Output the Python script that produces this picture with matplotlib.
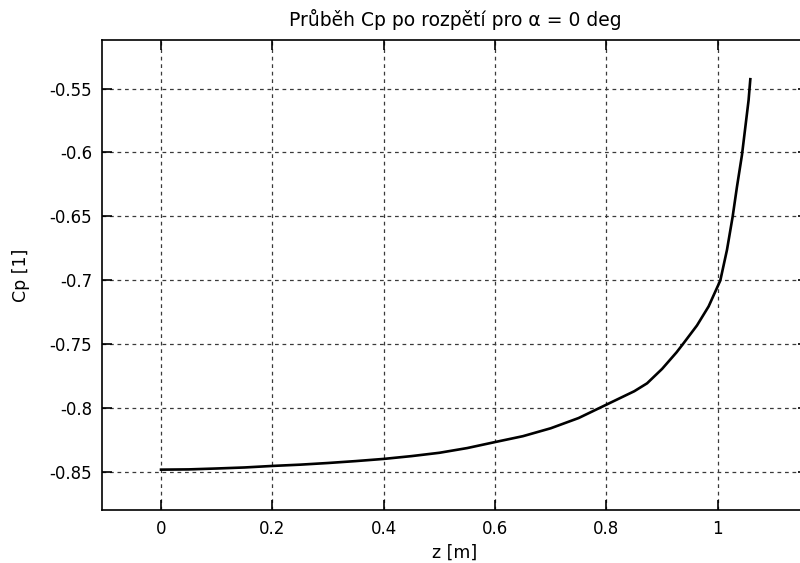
import matplotlib
matplotlib.use("Agg")
import matplotlib.pyplot as plt

plt.rcParams['font.family'] = ['DejaVu Sans']

z = [0.0, 0.05, 0.1, 0.15, 0.2, 0.25, 0.3, 0.35, 0.4, 0.45, 0.5, 0.55, 0.6,
     0.65, 0.7, 0.75, 0.8, 0.85, 0.873, 0.9, 0.926, 0.9375, 0.9626, 0.9835,
     1.0045, 1.0165, 1.0266, 1.0344, 1.0434, 1.0553, 1.0584]
cp = [-0.8484, -0.8482, -0.8475, -0.8467, -0.8455, -0.8445, -0.8432, -0.8417,
      -0.8400, -0.8378, -0.8352, -0.8315, -0.8268, -0.8222, -0.8160, -0.8080,
      -0.7975, -0.7870, -0.7808, -0.7695, -0.7565, -0.7500, -0.7355, -0.7206,
      -0.7003, -0.6763, -0.6505, -0.6270, -0.6020, -0.5591, -0.5427]

xticks = [0, 0.2, 0.4, 0.6, 0.8, 1]
xticklabels = ['0', '0.2', '0.4', '0.6', '0.8', '1']
yticks = [-0.85, -0.8, -0.75, -0.7, -0.65, -0.6, -0.55]
yticklabels = ['-0.85', '-0.8', '-0.75', '-0.7', '-0.65', '-0.6', '-0.55']

fig = plt.figure(figsize=(8.0, 5.63), dpi=100)
ax = fig.add_axes([102/800, 53/563, 706/800, 470/563])
ax.plot(z, cp, color='k', lw=1.9)
ax.set_xlim(-0.106, 1.162)
ax.set_ylim(-0.88, -0.512)
ax.set_xticks(xticks)
ax.set_xticklabels(xticklabels)
ax.set_yticks(yticks)
ax.set_yticklabels(yticklabels)
ax.grid(True, color='#3a3a3a', linestyle=(0, (3, 3)), lw=0.9)
ax.tick_params(direction='in', length=7, width=1.2, top=True, right=True,
               labelsize=12, pad=7, colors='k')
for s in ax.spines.values():
    s.set_linewidth(1.2)
ax.set_title('Průběh Cp po rozpětí pro α = 0 deg', fontsize=13.5, pad=10)
ax.set_xlabel('z [m]', fontsize=12.5, labelpad=4)
ax.set_ylabel('Cp [1]', fontsize=12.5, labelpad=14)
fig.savefig('out.png', dpi=100)
